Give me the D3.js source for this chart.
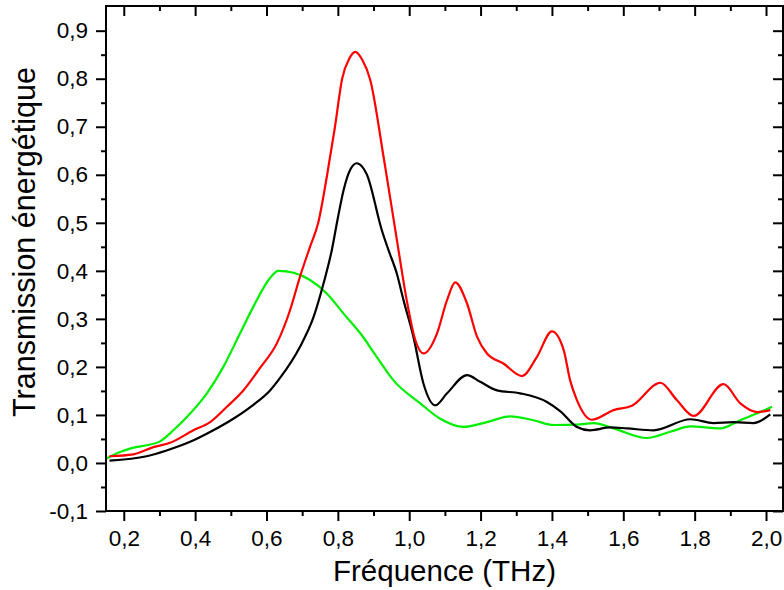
<!DOCTYPE html>
<html><head><meta charset="utf-8">
<script src="https://cdn.jsdelivr.net/npm/d3@7"></script>
<style>
body{margin:0;background:#fff;}
svg{display:block;}
text{font-family:"Liberation Sans",Arial,sans-serif;fill:#000;}
</style></head>
<body><svg id="c" width="784" height="590"></svg>
<script>
// ---- data ----
const freqBlack = [0.16,0.264,0.32,0.386,0.451,0.507,0.563,0.61,0.638,0.694,0.732,0.76,0.783,0.8,0.816,0.835,0.853,0.868,0.881,0.923,0.942,0.965,0.984,1.012,1.04,1.073,1.106,1.162,1.199,1.246,1.311,1.386,1.423,1.47,1.507,1.563,1.61,1.685,1.788,1.853,1.909,1.965,2.012];
const transBlack = [0.005,0.014,0.026,0.044,0.068,0.092,0.121,0.151,0.177,0.242,0.304,0.374,0.443,0.51,0.568,0.611,0.624,0.617,0.601,0.485,0.443,0.395,0.339,0.262,0.165,0.12,0.145,0.183,0.169,0.151,0.145,0.127,0.108,0.075,0.068,0.074,0.072,0.068,0.091,0.083,0.085,0.083,0.101];

const freqRed = [0.16,0.227,0.283,0.33,0.395,0.442,0.489,0.535,0.582,0.629,0.666,0.694,0.722,0.745,0.77,0.792,0.812,0.832,0.849,0.868,0.891,0.928,0.961,0.97,0.993,1.017,1.04,1.078,1.106,1.129,1.162,1.19,1.218,1.264,1.316,1.358,1.4,1.433,1.451,1.47,1.512,1.573,1.624,1.704,1.75,1.797,1.881,1.928,1.975,2.012];
const transRed = [0.014,0.018,0.033,0.042,0.068,0.085,0.117,0.151,0.198,0.249,0.318,0.388,0.45,0.5,0.6,0.7,0.8,0.842,0.856,0.84,0.797,0.638,0.485,0.443,0.339,0.256,0.228,0.27,0.339,0.376,0.332,0.263,0.228,0.207,0.181,0.221,0.274,0.235,0.172,0.131,0.09,0.11,0.119,0.167,0.131,0.098,0.164,0.124,0.106,0.11];

const freqGreen = [0.15,0.19,0.227,0.264,0.302,0.339,0.386,0.433,0.479,0.526,0.563,0.61,0.633,0.676,0.722,0.769,0.816,0.863,0.909,0.956,1.031,1.087,1.152,1.218,1.283,1.348,1.405,1.47,1.517,1.573,1.666,1.732,1.788,1.872,1.928,1.984,2.017];
const transGreen = [0.009,0.023,0.032,0.037,0.045,0.068,0.103,0.145,0.2,0.27,0.325,0.385,0.4,0.396,0.381,0.353,0.311,0.27,0.221,0.172,0.124,0.092,0.075,0.085,0.097,0.089,0.079,0.08,0.083,0.072,0.052,0.065,0.076,0.072,0.089,0.106,0.117];

const xTicks = [0.2,0.4,0.6,0.8,1.0,1.2,1.4,1.6,1.8,2.0];
const xMinor = [0.3,0.5,0.7,0.9,1.1,1.3,1.5,1.7,1.9];
const yTicks = [-0.1,0.0,0.1,0.2,0.3,0.4,0.5,0.6,0.7,0.8,0.9];
const yMinor = [-0.05,0.05,0.15,0.25,0.35,0.45,0.55,0.65,0.75,0.85];
const xTitle = "Fréquence (THz)";
const yTitle = "Transmission énergétique";

// ---- layout ----
const L = 106, R = 783, T = 6, B = 511;
const svg = d3.select("#c");
const x = d3.scaleLinear().domain([0.1502, 2.0476]).range([L, R]);
const y = d3.scaleLinear().domain([-0.1, 0.9514]).range([B, T]);
const loc = d3.formatLocale({decimal:",", thousands:" ", grouping:[3], currency:["",""], minus:"-"});
const fmt = loc.format(".1f");

function styleAxis(g){
  g.select(".domain").remove();
  g.selectAll(".tick line").attr("stroke","#000").attr("stroke-width",2);
  g.selectAll("text").style("font-family",'"Liberation Sans",Arial,sans-serif').style("font-size","22.5px").attr("fill","#000");
}
// bottom
svg.append("g").attr("transform",`translate(0,${B})`).call(d3.axisBottom(x).tickValues(xTicks).tickSize(10).tickPadding(9).tickFormat(fmt)).call(styleAxis);
svg.append("g").attr("transform",`translate(0,${B})`).call(d3.axisBottom(x).tickValues(xMinor).tickSize(5).tickFormat("")).call(styleAxis);
// top (inward)
svg.append("g").attr("transform",`translate(0,${T})`).call(d3.axisBottom(x).tickValues(xTicks).tickSize(10).tickFormat("")).call(styleAxis);
svg.append("g").attr("transform",`translate(0,${T})`).call(d3.axisBottom(x).tickValues(xMinor).tickSize(5).tickFormat("")).call(styleAxis);
// left
svg.append("g").attr("transform",`translate(${L},0)`).call(d3.axisLeft(y).tickValues(yTicks).tickSize(10).tickPadding(8).tickFormat(fmt)).call(styleAxis);
svg.append("g").attr("transform",`translate(${L},0)`).call(d3.axisLeft(y).tickValues(yMinor).tickSize(5).tickFormat("")).call(styleAxis);
// right (inward)
svg.append("g").attr("transform",`translate(${R},0)`).call(d3.axisLeft(y).tickValues(yTicks).tickSize(10).tickFormat("")).call(styleAxis);
svg.append("g").attr("transform",`translate(${R},0)`).call(d3.axisLeft(y).tickValues(yMinor).tickSize(5).tickFormat("")).call(styleAxis);

// curves
svg.append("clipPath").attr("id","pc").append("rect").attr("x",L).attr("y",T).attr("width",R-L).attr("height",B-T);
const line = d3.line().x(d=>x(d[0])).y(d=>y(d[1])).curve(d3.curveMonotoneX);
const series = [
  {f:freqGreen, v:transGreen, c:"#00ee00"},
  {f:freqBlack, v:transBlack, c:"#000000"},
  {f:freqRed, v:transRed, c:"#ff0000"}
];
const pg = svg.append("g").attr("clip-path","url(#pc)");
series.forEach(s=>{
  pg.append("path").datum(s.f.map((f,i)=>[f,s.v[i]]))
    .attr("d",line).attr("fill","none").attr("stroke",s.c).attr("stroke-width",2.2).attr("stroke-linejoin","round");
});

// frame
svg.append("rect").attr("x",L).attr("y",T).attr("width",R-L).attr("height",B-T).attr("fill","none").attr("stroke","#000").attr("stroke-width",2);

// titles
svg.append("text").attr("x",(L+R)/2).attr("y",581).attr("text-anchor","middle").style("font-size","29.5px").text(xTitle);
svg.append("text").attr("transform","translate(35,242) rotate(-90)").attr("text-anchor","middle").style("font-size","30.5px").text(yTitle);
</script></body></html>
